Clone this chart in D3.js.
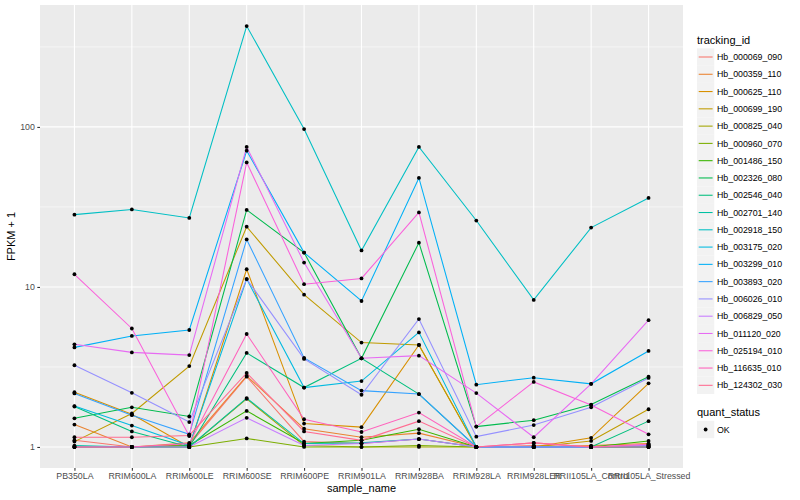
<!DOCTYPE html>
<html>
<head>
<meta charset="utf-8">
<script src="https://cdn.jsdelivr.net/npm/d3@7"></script>
<style>
  body { margin: 0; background: #fff; }
  text { font-family: "Liberation Sans", Arial, Helvetica, sans-serif; }
</style>
</head>
<body>
<div id="chart"></div>
<script>
const samples = ["PB350LA", "RRIM600LA", "RRIM600LE", "RRIM600SE", "RRIM600PE", "RRIM901LA",
  "RRIM928BA", "RRIM928LA", "RRIM928LER", "RRII105LA_Control", "RRII105LA_Stressed"];

const trackingIds = ["Hb_000069_090", "Hb_000359_110", "Hb_000625_110", "Hb_000699_190", "Hb_000825_040",
  "Hb_000960_070", "Hb_001486_150", "Hb_002326_080", "Hb_002546_040", "Hb_002701_140", "Hb_002918_150",
  "Hb_003175_020", "Hb_003299_010", "Hb_003893_020", "Hb_006026_010", "Hb_006829_050", "Hb_011120_020",
  "Hb_025194_010", "Hb_116635_010", "Hb_124302_030"];

// FPKM + 1, one row per tracking_id, in sample order
const fpkm = [
  [1.10, 1.00, 1.03, 2.75, 1.08, 1.05, 1.12, 1.00, 1.02, 1.00, 1.02],
  [1.38, 1.00, 1.06, 2.78, 1.30, 1.15, 1.22, 1.00, 1.00, 1.02, 1.05],
  [2.20, 1.60, 1.00, 12.9, 1.40, 1.33, 4.34, 1.00, 1.00, 1.14, 2.50],
  [1.08, 1.62, 3.20, 23.8, 8.95, 4.49, 4.34, 1.00, 1.00, 1.09, 1.72],
  [1.00, 1.00, 1.00, 2.00, 1.02, 1.00, 1.00, 1.00, 1.00, 1.00, 1.00],
  [1.00, 1.00, 1.00, 1.13, 1.00, 1.00, 1.02, 1.00, 1.00, 1.00, 1.00],
  [1.00, 1.00, 1.02, 1.68, 1.05, 1.10, 1.29, 1.00, 1.00, 1.00, 1.09],
  [1.51, 1.77, 1.55, 30.3, 16.4, 3.58, 18.9, 1.34, 1.47, 1.84, 2.75],
  [1.79, 1.25, 1.00, 3.87, 2.35, 3.58, 2.14, 1.00, 1.00, 1.00, 1.45],
  [1.02, 1.00, 1.00, 2.02, 1.05, 1.06, 1.12, 1.00, 1.00, 1.00, 1.00],
  [28.3, 30.5, 27.0, 427, 97.0, 16.9, 75.0, 26.0, 8.30, 23.5, 36.0],
  [1.80, 1.36, 1.02, 11.2, 2.35, 2.58, 5.20, 1.00, 1.00, 1.00, 1.00],
  [4.19, 4.94, 5.38, 71.0, 16.4, 8.17, 48.0, 2.45, 2.71, 2.48, 3.98],
  [2.16, 1.58, 1.20, 19.8, 3.60, 2.25, 2.14, 1.00, 1.00, 1.00, 1.02],
  [3.24, 2.18, 1.43, 11.2, 3.55, 2.12, 6.30, 1.16, 1.37, 1.77, 2.70],
  [1.00, 1.00, 1.00, 1.52, 1.02, 1.05, 1.12, 1.00, 1.00, 1.00, 1.03],
  [4.38, 3.90, 3.75, 75.0, 14.2, 3.58, 3.72, 2.17, 1.15, 2.48, 6.20],
  [12.0, 5.50, 1.17, 60.0, 10.4, 11.3, 29.2, 1.34, 2.55, 1.83, 1.20],
  [1.00, 1.00, 1.05, 5.08, 1.49, 1.24, 1.64, 1.00, 1.06, 1.00, 1.04],
  [1.15, 1.15, 1.18, 2.90, 1.25, 1.10, 1.45, 1.00, 1.06, 1.00, 1.00],
];

const colors = ["#F8766D", "#EA8331", "#D89000", "#C09B00", "#A3A500", "#7CAE00", "#39B600", "#00BB4E",
  "#00BF7D", "#00C1A3", "#00BFC4", "#00BAE0", "#00B0F6", "#35A2FF", "#9590FF", "#C77CFF", "#E76BF3",
  "#FA62DB", "#FF62BC", "#FF6C91"];

const yTicks = [1, 10, 100];
const yMinor = [Math.pow(10, 0.5), Math.pow(10, 1.5), Math.pow(10, 2.5)];

const W = 800, H = 500;
const panel = { left: 40, right: 683, top: 5, bottom: 468 };

const svg = d3.select("#chart").append("svg").attr("width", W).attr("height", H);

const x = d3.scalePoint().domain(samples).range([panel.left, panel.right]).padding(0.6);

// log scale with ggplot's 5% expansion in log space
const all = fpkm.flat();
const lo = Math.log10(d3.min(all)), hi = Math.log10(d3.max(all));
const pad = (hi - lo) * 0.05;
const y = d3.scaleLog()
  .domain([Math.pow(10, lo - pad), Math.pow(10, hi + pad)])
  .range([panel.bottom, panel.top]);

svg.append("rect")
  .attr("x", panel.left).attr("y", panel.top)
  .attr("width", panel.right - panel.left).attr("height", panel.bottom - panel.top)
  .attr("fill", "#EBEBEB");

const grid = svg.append("g");
grid.selectAll("line.minor").data(yMinor).enter().append("line")
  .attr("x1", panel.left).attr("x2", panel.right)
  .attr("y1", (d) => y(d)).attr("y2", (d) => y(d))
  .attr("stroke", "#fff").attr("stroke-width", 0.55);
grid.selectAll("line.majy").data(yTicks).enter().append("line")
  .attr("x1", panel.left).attr("x2", panel.right)
  .attr("y1", (d) => y(d)).attr("y2", (d) => y(d))
  .attr("stroke", "#fff").attr("stroke-width", 1.1);
grid.selectAll("line.majx").data(samples).enter().append("line")
  .attr("y1", panel.top).attr("y2", panel.bottom)
  .attr("x1", (d) => x(d)).attr("x2", (d) => x(d))
  .attr("stroke", "#fff").attr("stroke-width", 1.1);

const line = d3.line().x((d, i) => x(samples[i])).y((d) => y(d));

svg.append("g").selectAll("path").data(fpkm).enter().append("path")
  .attr("d", line)
  .attr("fill", "none")
  .attr("stroke", (d, i) => colors[i])
  .attr("stroke-width", 1.07);

const pts = svg.append("g");
fpkm.forEach((row) => {
  pts.selectAll(null).data(row).enter().append("circle")
    .attr("cx", (d, i) => x(samples[i]))
    .attr("cy", (d) => y(d))
    .attr("r", 1.9)
    .attr("fill", "#000");
});

// axes
const yAxis = svg.append("g")
  .attr("transform", `translate(${panel.left},0)`)
  .call(d3.axisLeft(y).tickValues(yTicks).tickFormat(d3.format("d")).tickSize(2.7).tickPadding(2.5));
const xAxis = svg.append("g")
  .attr("transform", `translate(0,${panel.bottom})`)
  .call(d3.axisBottom(x).tickSize(2.7).tickPadding(2.5));
[yAxis, xAxis].forEach((a) => {
  a.select(".domain").remove();
  a.selectAll(".tick line").attr("stroke", "#333").attr("stroke-width", 1.07);
  a.selectAll(".tick text").attr("fill", "#4D4D4D").style("font-size", "8.8px")
    .style("font-family", "'Liberation Sans', Arial, sans-serif");
});

svg.append("text")
  .attr("x", (panel.left + panel.right) / 2).attr("y", 492)
  .attr("text-anchor", "middle").attr("font-size", 11).attr("fill", "#000")
  .text("sample_name");

svg.append("text")
  .attr("transform", `translate(15,${(panel.top + panel.bottom) / 2}) rotate(-90)`)
  .attr("text-anchor", "middle").attr("font-size", 11).attr("fill", "#000")
  .text("FPKM + 1");

// legend: tracking_id
const leg = svg.append("g");
const legX = 697, key0 = 57, keyStep = 17.28;
leg.append("text").attr("x", legX).attr("y", 44).attr("font-size", 11).text("tracking_id");
const items = leg.selectAll("g.item").data(trackingIds).enter().append("g")
  .attr("transform", (d, i) => `translate(${legX},${key0 + i * keyStep})`);
items.append("rect").attr("x", 0).attr("y", -8.64).attr("width", 17.28).attr("height", 17.28)
  .attr("fill", "#F2F2F2");
items.append("line").attr("x1", 1.7).attr("x2", 15.6).attr("y1", 0).attr("y2", 0)
  .attr("stroke", (d, i) => colors[i]).attr("stroke-width", 1.07);
items.append("text").attr("x", 20).attr("y", 3.1).attr("font-size", 8.8).attr("fill", "#000")
  .text((d) => d);

// legend: quant_status
leg.append("text").attr("x", legX).attr("y", 416).attr("font-size", 11).text("quant_status");
const ok = leg.append("g").attr("transform", `translate(${legX},429.5)`);
ok.append("rect").attr("x", 0).attr("y", -8.64).attr("width", 17.28).attr("height", 17.28).attr("fill", "#F2F2F2");
ok.append("circle").attr("cx", 8.64).attr("cy", 0).attr("r", 1.9).attr("fill", "#000");
ok.append("text").attr("x", 20).attr("y", 3.1).attr("font-size", 8.8).text("OK");
</script>
</body>
</html>
